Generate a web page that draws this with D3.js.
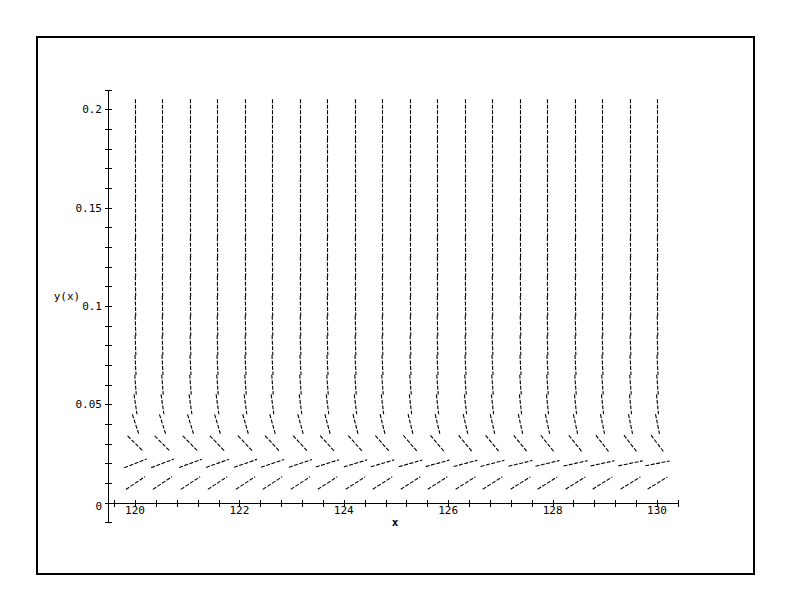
<!DOCTYPE html>
<html><head><meta charset="utf-8">
<script src="https://cdn.jsdelivr.net/npm/d3@7"></script>
<style>body{margin:0;background:#fff}svg{display:block}</style>
</head><body>
<script>
// ---- data ----
const xCols = [120.000,120.526,121.053,121.579,122.105,122.632,123.158,123.684,124.211,124.737,
               125.263,125.789,126.316,126.842,127.368,127.895,128.421,128.947,129.474,130.000];
const yRows = [0.01,0.02,0.03,0.04,0.05,0.06,0.07,0.08,0.09,0.10,
               0.11,0.12,0.13,0.14,0.15,0.16,0.17,0.18,0.19,0.20];
// slopes dy/dx, lower rows vary along x
const slopeRow01 = [0.0177,0.0176,0.0175,0.0175,0.0174,0.0173,0.0173,0.0172,0.0171,0.0171,0.0170,0.0169,0.0168,0.0168,0.0167,0.0166,0.0166,0.0165,0.0164,0.0163];
const slopeRow02 = [0.0103,0.0100,0.0097,0.0095,0.0092,0.0089,0.0087,0.0084,0.0081,0.0079,0.0076,0.0073,0.0071,0.0068,0.0065,0.0063,0.0060,0.0057,0.0055,0.0052];
const slopeRow03 = [-0.0260,-0.0265,-0.0269,-0.0274,-0.0279,-0.0284,-0.0288,-0.0293,-0.0298,-0.0302,-0.0307,-0.0312,-0.0317,-0.0321,-0.0326,-0.0331,-0.0335,-0.0340,-0.0345,-0.0350];
const slopeRow04 = [-0.081,-0.084,-0.086,-0.089,-0.092,-0.095,-0.097,-0.100,-0.103,-0.106,-0.108,-0.111,-0.114,-0.117,-0.119,-0.122,-0.125,-0.128,-0.130,-0.133];
const slopeRow05 = [-0.180,-0.185,-0.189,-0.194,-0.199,-0.204,-0.208,-0.213,-0.218,-0.223,-0.227,-0.232,-0.237,-0.242,-0.246,-0.251,-0.256,-0.261,-0.265,-0.270];
// upper rows: nearly vertical, same along x
const slopeUpper = [-0.35,-0.5,-0.7,-0.9,-1.2,-1.5,-2,-2.5,-3,-3.5,-4,-5,-6,-7,-8];
const xTicks = [119.6,120,120.4,120.8,121.2,121.6,122,122.4,122.8,123.2,123.6,124,124.4,124.8,125.2,125.6,126,126.4,126.8,127.2,127.6,128,128.4,128.8,129.2,129.6,130,130.4];
const xLabels = [120,122,124,126,128,130];
const yTicks = [-0.01,0,0.01,0.02,0.03,0.04,0.05,0.06,0.07,0.08,0.09,0.1,0.11,0.12,0.13,0.14,0.15,0.16,0.17,0.18,0.19,0.2,0.21];
const yLabels = [0,0.05,0.1,0.15,0.2];
const yLabelText = ["0","0.05","0.1","0.15","0.2"];

// ---- drawing ----
const W = 792, H = 612;
const svg = d3.select("body").append("svg").attr("width", W).attr("height", H);
svg.append("rect").attr("x", 37).attr("y", 37).attr("width", 717).attr("height", 537)
  .attr("fill", "none").attr("stroke", "#000").attr("stroke-width", 2);

const x = d3.scaleLinear().domain([120, 130]).range([135, 657]);
const y = d3.scaleLinear().domain([0, 0.2]).range([502.7, 109.3]);
const axisX = 119.48; // x position of vertical axis
const lowSlopes = [slopeRow01, slopeRow02, slopeRow03, slopeRow04, slopeRow05];

const segs = [];
yRows.forEach((yv, r) => {
  xCols.forEach((xv, c) => {
    const f = r < lowSlopes.length ? lowSlopes[r][c] : slopeUpper[r - lowSlopes.length];
    segs.push({x: xv, y: yv, f: f});
  });
});
const Ax = 12.5, Ay = 10;
const g = svg.append("g");
g.selectAll("line").data(segs).join("line")
  .each(function(d) {
    const px = x(d.x + 1) - x(d.x);
    const py = y(d.y + d.f) - y(d.y);
    const n = Math.hypot(px, py);
    const ux = px / n, uy = py / n;
    const L = 1 / Math.sqrt((ux / Ax) ** 2 + (uy / Ay) ** 2);
    const cx = Math.round(x(d.x)) + 0.5, cy = y(d.y);
    d3.select(this).attr("x1", cx - ux * L).attr("y1", cy - uy * L)
      .attr("x2", cx + ux * L).attr("y2", cy + uy * L);
  })
  .attr("stroke", "#000").attr("stroke-width", 1.1).attr("stroke-dasharray", "4,1.5");

// axes
const ax = svg.append("g").attr("stroke", "#000").attr("stroke-width", 1).attr("shape-rendering", "crispEdges");
const x0 = Math.round(x(axisX)) + 0.5, y0 = Math.round(y(0)) + 0.5;
ax.append("line").attr("x1", x(119.42)).attr("x2", x(130.42)).attr("y1", y0).attr("y2", y0);
ax.append("line").attr("x1", x0).attr("x2", x0).attr("y1", y(-0.0099)).attr("y2", y(0.2098));
ax.selectAll(".xt").data(xTicks).join("line").attr("class", "xt")
  .attr("x1", d => Math.round(x(d)) + 0.5).attr("x2", d => Math.round(x(d)) + 0.5)
  .attr("y1", y0 - 3.5).attr("y2", y0 + 3.5);
ax.selectAll(".yt").data(yTicks).join("line").attr("class", "yt")
  .attr("y1", d => Math.round(y(d)) + 0.5).attr("y2", d => Math.round(y(d)) + 0.5)
  .attr("x1", x0 - 3.5).attr("x2", x0 + 3.5);

const txt = svg.append("g").attr("font-family", "DejaVu Sans Mono, monospace").attr("font-size", 11).attr("fill", "#000");
txt.selectAll(".xl").data(xLabels).join("text")
  .attr("x", d => x(d)).attr("y", 514).attr("text-anchor", "middle").text(d => d);
txt.selectAll(".yl").data(yLabels).join("text")
  .attr("x", 102).attr("y", (d, i) => y(d) + (i === 0 ? 7 : 4)).attr("text-anchor", "end")
  .text((d, i) => yLabelText[i]);
txt.append("text").attr("x", 67).attr("y", 300).attr("text-anchor", "middle").text("y(x)");
txt.append("text").attr("x", 395).attr("y", 526).attr("text-anchor", "middle").attr("font-weight", "bold").text("x");
</script>
</body></html>
